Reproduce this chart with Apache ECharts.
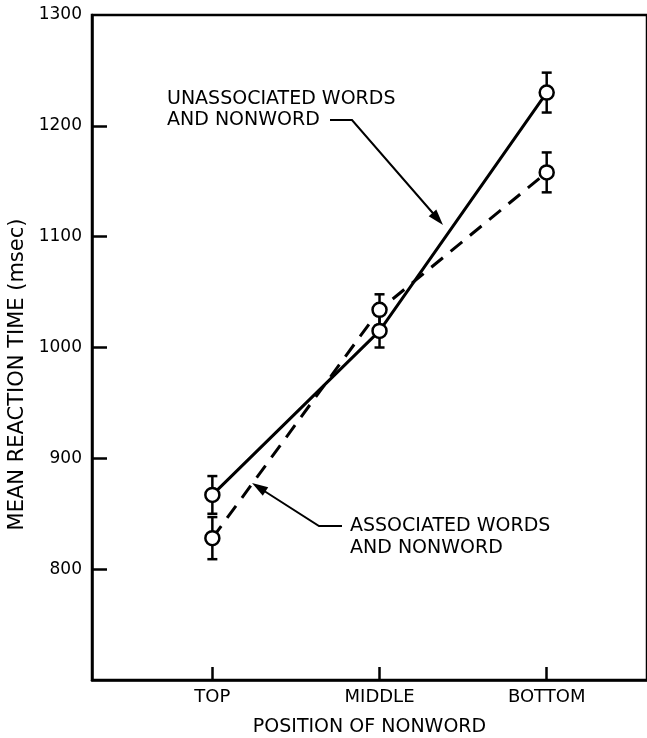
<!DOCTYPE html>
<html>
<head>
<meta charset="utf-8">
<script src="https://cdn.jsdelivr.net/npm/echarts@6/dist/echarts.min.js"></script>
<style>
  html, body { margin: 0; padding: 0; background: #fff; }
  #chart { width: 647px; height: 738px; }
</style>
</head>
<body>
<div id="chart"></div>
<script>
// positions of the nonword, x = 0, 1, 2
var categories = ['TOP', 'MIDDLE', 'BOTTOM'];
var unassociated = [867, 1015, 1230];
var unassociatedErr = [17, 15, 18];
var associated = [828, 1034, 1158];
var associatedErr = [19, 14, 18];
var yTicks = [800, 900, 1000, 1100, 1200, 1300];

var FONT = 'DejaVu Sans';

function points(vals) {
  return vals.map(function (v, i) { return [i, v]; });
}
function errRows(vals, errs) {
  return vals.map(function (v, i) { return [i, v - errs[i], v + errs[i]]; });
}

function renderErr(params, api) {
  var lo = api.coord([api.value(0), api.value(1)]);
  var hi = api.coord([api.value(0), api.value(2)]);
  var cap = 5;
  var style = { stroke: '#000', lineWidth: 2.5 };
  return {
    type: 'group',
    children: [
      { type: 'line', shape: { x1: lo[0], y1: lo[1], x2: hi[0], y2: hi[1] }, style: style },
      { type: 'line', shape: { x1: lo[0] - cap, y1: lo[1], x2: lo[0] + cap, y2: lo[1] }, style: style },
      { type: 'line', shape: { x1: hi[0] - cap, y1: hi[1], x2: hi[0] + cap, y2: hi[1] }, style: style }
    ]
  };
}

var chartDom = document.getElementById('chart');
var myChart = echarts.init(chartDom);
var option;

option = {
  animation: false,
  backgroundColor: '#fff',
  textStyle: { fontFamily: FONT, color: '#000' },
  grid: {
    left: 92,
    right: 0,
    top: 15,
    bottom: 58,
    outerBoundsMode: 'none',
    show: true,
    borderColor: '#000',
    borderWidth: 2.5
  },
  xAxis: {
    type: 'value',
    min: -0.72,
    max: 2.6,
    name: 'POSITION OF NONWORD',
    nameLocation: 'middle',
    nameGap: 38,
    nameTextStyle: { fontSize: 19, color: '#000', fontFamily: FONT },
    splitLine: { show: false },
    axisLine: { show: true, onZero: false, lineStyle: { color: '#000', width: 2.5 } },
    axisTick: {
      show: true,
      inside: true,
      length: 13,
      customValues: [0, 1, 2],
      lineStyle: { color: '#000', width: 2.5 }
    },
    axisLabel: {
      show: true,
      customValues: [0, 1, 2],
      margin: 8,
      fontSize: 18,
      color: '#000',
      fontFamily: FONT,
      formatter: function (v) { return categories[Math.round(v)] || ''; }
    }
  },
  yAxis: {
    type: 'value',
    min: 700,
    max: 1300,
    interval: 100,
    name: 'MEAN REACTION TIME (msec)',
    nameLocation: 'middle',
    nameRotate: 90,
    nameGap: 56,
    nameTextStyle: { fontSize: 21, color: '#000', fontFamily: FONT, padding: [0, 54, 0, 0] },
    splitLine: { show: false },
    axisLine: { show: true, onZero: false, lineStyle: { color: '#000', width: 2.5 } },
    axisTick: {
      show: true,
      inside: true,
      length: 15,
      customValues: yTicks.slice(0, 5),
      lineStyle: { color: '#000', width: 2.5 }
    },
    axisLabel: {
      show: true,
      customValues: yTicks,
      margin: 10,
      fontSize: 17,
      color: '#000',
      fontFamily: FONT,
      formatter: function (v) { return String(v); }
    }
  },
  series: [
    {
      name: 'unassociated err',
      type: 'custom',
      renderItem: renderErr,
      data: errRows(unassociated, unassociatedErr),
      encode: { x: 0, y: [1, 2] },
      z: 1,
      silent: true
    },
    {
      name: 'associated err',
      type: 'custom',
      renderItem: renderErr,
      data: errRows(associated, associatedErr),
      encode: { x: 0, y: [1, 2] },
      z: 1,
      silent: true
    },
    {
      name: 'Unassociated words and nonword',
      type: 'line',
      data: points(unassociated),
      symbol: 'circle',
      symbolSize: 14,
      lineStyle: { color: '#000', width: 3, type: 'solid' },
      itemStyle: { color: '#fff', borderColor: '#000', borderWidth: 2.5 },
      z: 3
    },
    {
      name: 'Associated words and nonword',
      type: 'line',
      data: points(associated),
      symbol: 'circle',
      symbolSize: 14,
      lineStyle: { color: '#000', width: 3, type: [15, 10] },
      itemStyle: { color: '#fff', borderColor: '#000', borderWidth: 2.5 },
      z: 4
    }
  ],
  graphic: [
    // unassociated label + arrow
    {
      type: 'text', left: 167, top: 89,
      style: { text: 'UNASSOCIATED WORDS\nAND NONWORD', font: '19px "DejaVu Sans"', fill: '#000', lineHeight: 21 }
    },
    {
      type: 'polyline',
      shape: { points: [[330, 120], [352, 120], [438, 219]] },
      style: { stroke: '#000', lineWidth: 2, fill: null }
    },
    {
      type: 'polygon',
      shape: { points: [[443, 225], [428.7, 216.2], [436.3, 209.6]] },
      style: { fill: '#000' }
    },
    // associated label + arrow
    {
      type: 'text', left: 350, top: 515,
      style: { text: 'ASSOCIATED WORDS\nAND NONWORD', font: '19px "DejaVu Sans"', fill: '#000', lineHeight: 22 }
    },
    {
      type: 'polyline',
      shape: { points: [[342, 526], [319, 526], [258, 487]] },
      style: { stroke: '#000', lineWidth: 2, fill: null }
    },
    {
      type: 'polygon',
      shape: { points: [[252, 483], [268.2, 487.3], [262.8, 495.7]] },
      style: { fill: '#000' }
    }
  ]
};

option && myChart.setOption(option);
</script>
</body>
</html>
